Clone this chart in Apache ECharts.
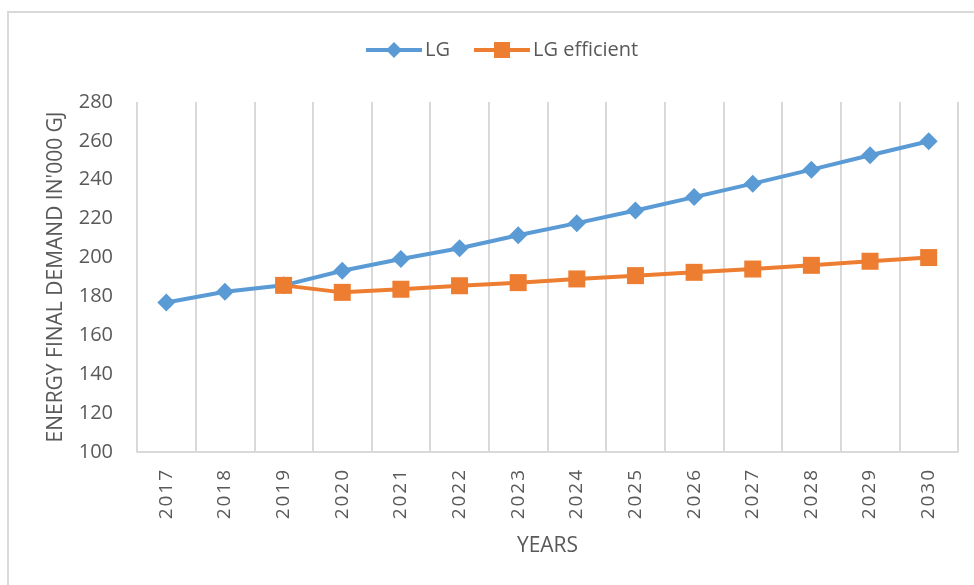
<!DOCTYPE html>
<html>
<head>
<meta charset="utf-8">
<script src="https://cdn.jsdelivr.net/npm/echarts@6/dist/echarts.min.js"></script>
<style>
  html, body { margin: 0; padding: 0; background: #ffffff; }
  #chart { width: 974px; height: 585px; }
</style>
</head>
<body>
<div id="chart"></div>
<script>
// Years on the horizontal axis
const years = ['2017', '2018', '2019', '2020', '2021', '2022', '2023',
               '2024', '2025', '2026', '2027', '2028', '2029', '2030'];

// Energy final demand, thousand GJ
const lgValues = [176.9, 182.4, 185.7, 193.2, 199.3, 204.8, 211.5,
                  217.7, 224.2, 231.1, 238.0, 245.2, 252.6, 259.8];
const lgEfficientValues = [null, null, 185.7, 182.1, 183.7, 185.5, 187.1,
                           189.0, 190.7, 192.4, 194.1, 196.0, 198.1, 200.0];

// Value axis range
const yMin = 100;
const yMax = 280;
const yStep = 20;

const textColor = '#595959';
const fontFamily = '"Open Sans", "Liberation Sans", sans-serif';
const gridColor = '#D9D9D9';

const chart = echarts.init(document.getElementById('chart'), null, { renderer: 'canvas' });

chart.setOption({
  animation: false,
  backgroundColor: '#ffffff',
  textStyle: { fontFamily: fontFamily, color: textColor },
  graphic: [{
    type: 'rect',
    shape: { x: 8, y: 12, width: 990, height: 600 },
    style: { fill: 'none', stroke: gridColor, lineWidth: 2 },
    silent: true
  }],
  legend: {
    top: 35,
    left: 359,
    itemWidth: 56,
    itemHeight: 20,
    itemGap: 22,
    lineStyle: { width: 4 },
    textStyle: { fontSize: 20, color: textColor, fontFamily: fontFamily, padding: [0, 0, 0, -2] },
    data: ['LG', 'LG efficient']
  },
  grid: { left: 137, right: 16, top: 102, bottom: 133 },
  xAxis: {
    type: 'category',
    data: years,
    boundaryGap: true,
    name: 'YEARS',
    nameLocation: 'middle',
    nameGap: 84,
    nameTextStyle: { fontSize: 21, color: textColor, fontFamily: fontFamily },
    axisLine: { show: true, lineStyle: { color: gridColor, width: 2 } },
    axisTick: { show: false },
    splitLine: { show: true, lineStyle: { color: gridColor, width: 2 } },
    axisLabel: {
      rotate: 90,
      margin: 18,
      fontSize: 19,
      color: textColor,
      fontFamily: fontFamily,
      formatter: v => v.split('').join('\u200A')
    }
  },
  yAxis: {
    type: 'value',
    min: yMin,
    max: yMax,
    interval: yStep,
    name: "ENERGY FINAL DEMAND IN'000 GJ",
    nameLocation: 'middle',
    nameGap: 70,
    nameTextStyle: { fontSize: 21, color: textColor, fontFamily: fontFamily },
    axisLine: { show: false },
    axisTick: { show: false },
    splitLine: { show: false },
    axisLabel: { margin: 24, fontSize: 20, color: textColor, fontFamily: fontFamily }
  },
  series: [
    {
      name: 'LG',
      type: 'line',
      data: lgValues,
      symbol: 'diamond',
      symbolSize: [18, 18],
      itemStyle: { color: '#5B9BD5' },
      lineStyle: { color: '#5B9BD5', width: 4 },
      z: 2
    },
    {
      name: 'LG efficient',
      type: 'line',
      data: lgEfficientValues,
      symbol: 'rect',
      symbolSize: [17, 17],
      itemStyle: { color: '#ED7D31' },
      lineStyle: { color: '#ED7D31', width: 4 },
      z: 3
    }
  ]
});
</script>
</body>
</html>
